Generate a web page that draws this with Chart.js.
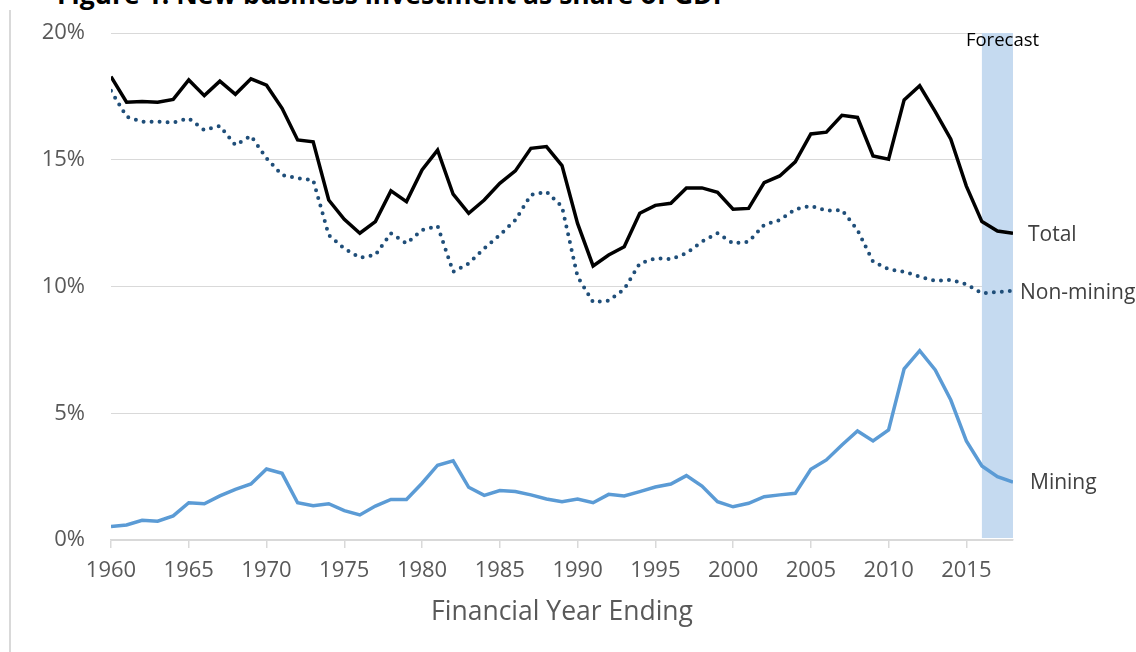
<!DOCTYPE html>
<html>
<head>
<meta charset="utf-8">
<title>New business investment as share of GDP</title>
<script src="https://cdn.jsdelivr.net/npm/chart.js@4.4.1/dist/chart.umd.min.js"></script>
<style>
  html, body { margin: 0; padding: 0; background: #fff; overflow: hidden; }
  #wrap { position: relative; width: 1136px; height: 652px; overflow: hidden; }
  #title { position: absolute; left: 57px; top: -19px; font: bold 26.5px "Open Sans", sans-serif; line-height: 26.5px; color: #000; white-space: nowrap; }
  #frame { position: absolute; left: 9px; top: 10px; width: 2px; height: 642px; background: #d9d9d9; }
  #chart { position: absolute; left: 0; top: 0; }
</style>
</head>
<body>
<div id="wrap">
  <div id="title">Figure 1: New business investment as share of GDP</div>
  <div id="frame"></div>
  <canvas id="chart" width="1136" height="652"></canvas>
</div>
<script>
// Financial year ending
const years = [
  1960, 1961, 1962, 1963, 1964, 1965, 1966, 1967, 1968, 1969,
  1970, 1971, 1972, 1973, 1974, 1975, 1976, 1977, 1978, 1979,
  1980, 1981, 1982, 1983, 1984, 1985, 1986, 1987, 1988, 1989,
  1990, 1991, 1992, 1993, 1994, 1995, 1996, 1997, 1998, 1999,
  2000, 2001, 2002, 2003, 2004, 2005, 2006, 2007, 2008, 2009,
  2010, 2011, 2012, 2013, 2014, 2015, 2016, 2017, 2018
];

// Share of GDP, per cent
const totalShare = [
  18.28, 17.27, 17.30, 17.27, 17.38, 18.15, 17.53, 18.10, 17.58, 18.19,
  17.94, 17.03, 15.78, 15.71, 13.41, 12.65, 12.10, 12.56, 13.77, 13.35,
  14.60, 15.38, 13.64, 12.89, 13.41, 14.07, 14.56, 15.45, 15.52, 14.77,
  12.49, 10.81, 11.24, 11.57, 12.89, 13.20, 13.28, 13.89, 13.89, 13.72,
  13.05, 13.08, 14.10, 14.36, 14.92, 16.02, 16.09, 16.75, 16.67, 15.15,
  15.02, 17.36, 17.92, 16.90, 15.81, 13.96, 12.56, 12.19, 12.10
];
const nonMiningShare = [
  17.72, 16.70, 16.50, 16.50, 16.47, 16.63, 16.17, 16.33, 15.58, 15.94,
  15.06, 14.40, 14.27, 14.20, 12.03, 11.50, 11.14, 11.24, 12.10, 11.70,
  12.23, 12.39, 10.58, 10.91, 11.50, 12.03, 12.62, 13.61, 13.74, 13.15,
  10.39,  9.38,  9.44,  9.89, 10.91, 11.11, 11.08, 11.31, 11.77, 12.10,
  11.70, 11.77, 12.43, 12.62, 13.05, 13.18, 12.99, 13.02, 12.23, 10.98,
  10.68, 10.58, 10.39, 10.22, 10.26, 10.09,  9.73,  9.78,  9.83
];
const miningShare = [
  0.53, 0.59, 0.78, 0.74, 0.95, 1.47, 1.43, 1.74, 2.00, 2.21,
  2.80, 2.63, 1.47, 1.35, 1.43, 1.16, 0.99, 1.34, 1.60, 1.60,
  2.24, 2.95, 3.12, 2.08, 1.76, 1.95, 1.91, 1.78, 1.62, 1.51,
  1.62, 1.47, 1.80, 1.74, 1.91, 2.09, 2.21, 2.54, 2.13, 1.51,
  1.31, 1.45, 1.71, 1.78, 1.84, 2.79, 3.16, 3.75, 4.30, 3.91,
  4.34, 6.75, 7.47, 6.71, 5.52, 3.91, 2.92, 2.50, 2.28
];

const seriesNames = ["Total", "Non-mining", "Mining"];
const forecastStart = 2016;
const forecastEnd = 2018;
const forecastLabel = "Forecast";
const xAxisTitle = "Financial Year Ending";

const toPoints = (values) => values.map((v, i) => ({ x: years[i], y: v }));

// Shaded forecast band behind the lines
const forecastBand = {
  id: "forecastBand",
  beforeDatasetsDraw(chart) {
    const { ctx, scales: { x, y } } = chart;
    const left = x.getPixelForValue(forecastStart);
    const right = x.getPixelForValue(forecastEnd);
    const top = y.getPixelForValue(20);
    const bottom = y.getPixelForValue(0) - 2;
    ctx.save();
    ctx.fillStyle = "#c5daf0";
    ctx.fillRect(left, top, right - left, bottom - top);
    ctx.restore();
  },
  afterDatasetsDraw(chart) {
    const { ctx, scales: { x, y } } = chart;
    ctx.save();
    ctx.fillStyle = "#000";
    ctx.font = '18.5px "Open Sans"';
    ctx.textAlign = "left";
    ctx.textBaseline = "middle";
    ctx.fillText(forecastLabel, x.getPixelForValue(forecastStart) - 16, y.getPixelForValue(20) + 8);
    ctx.restore();
  }
};

// Series names written next to the last point of each line
const endLabels = {
  id: "endLabels",
  afterDatasetsDraw(chart) {
    const { ctx, scales: { x, y } } = chart;
    const last = years.length - 1;
    const xEnd = x.getPixelForValue(years[last]);
    const items = [
      { text: seriesNames[0], value: totalShare[last], dx: 15, dy: 2 },
      { text: seriesNames[1], value: nonMiningShare[last], dx: 7, dy: 2 },
      { text: seriesNames[2], value: miningShare[last], dx: 17, dy: 1 }
    ];
    ctx.save();
    ctx.fillStyle = "#404040";
    ctx.font = '21px "Open Sans"';
    ctx.textAlign = "left";
    ctx.textBaseline = "middle";
    items.forEach((it) => {
      ctx.fillText(it.text, xEnd + it.dx, y.getPixelForValue(it.value) + it.dy);
    });
    ctx.restore();
  }
};

new Chart(document.getElementById("chart"), {
  type: "line",
  data: {
    datasets: [
      {
        label: seriesNames[0],
        data: toPoints(totalShare),
        borderColor: "#000000",
        borderWidth: 3.5,
        pointRadius: 0,
        tension: 0
      },
      {
        label: seriesNames[1],
        data: toPoints(nonMiningShare),
        borderColor: "#1f4e79",
        borderWidth: 4,
        borderDash: [0, 8],
        borderCapStyle: "round",
        pointRadius: 0,
        tension: 0
      },
      {
        label: seriesNames[2],
        data: toPoints(miningShare),
        borderColor: "#5b9bd5",
        borderWidth: 3.5,
        pointRadius: 0,
        tension: 0
      }
    ]
  },
  options: {
    responsive: false,
    animation: false,
    events: [],
    layout: { autoPadding: false, padding: { top: 33, right: 123, left: 0, bottom: 0 } },
    plugins: {
      legend: { display: false },
      tooltip: { enabled: false },
      title: { display: false }
    },
    scales: {
      x: {
        type: "linear",
        min: 1960,
        max: 2018,
        afterFit: (scale) => {
          scale.height = 112;
          scale.paddingLeft = 0;
          scale.paddingRight = 0;
        },
        grid: {
          drawOnChartArea: false,
          drawTicks: true,
          tickLength: 8,
          color: "#d9d9d9",
          lineWidth: 1.5
        },
        border: { display: true, color: "#d9d9d9", width: 1.5 },
        ticks: {
          stepSize: 5,
          includeBounds: false,
          autoSkip: false,
          maxRotation: 0,
          padding: 10,
          color: "#595959",
          font: { family: "Open Sans", size: 22 },
          callback: (v) => String(v)
        },
        title: {
          display: true,
          text: xAxisTitle,
          color: "#595959",
          font: { family: "Open Sans", size: 26.5 },
          padding: { top: 4, bottom: 24 }
        }
      },
      y: {
        min: 0,
        max: 20,
        afterFit: (scale) => {
          scale.width = 111;
          scale.paddingTop = 0;
          scale.paddingBottom = 0;
        },
        grid: { color: "#d9d9d9", lineWidth: 1, drawTicks: false },
        border: { display: false },
        ticks: {
          stepSize: 5,
          padding: 26,
          color: "#595959",
          font: { family: "Open Sans", size: 22 },
          callback: (v) => v + "%"
        }
      }
    }
  },
  plugins: [forecastBand, endLabels]
});
</script>
</body>
</html>
